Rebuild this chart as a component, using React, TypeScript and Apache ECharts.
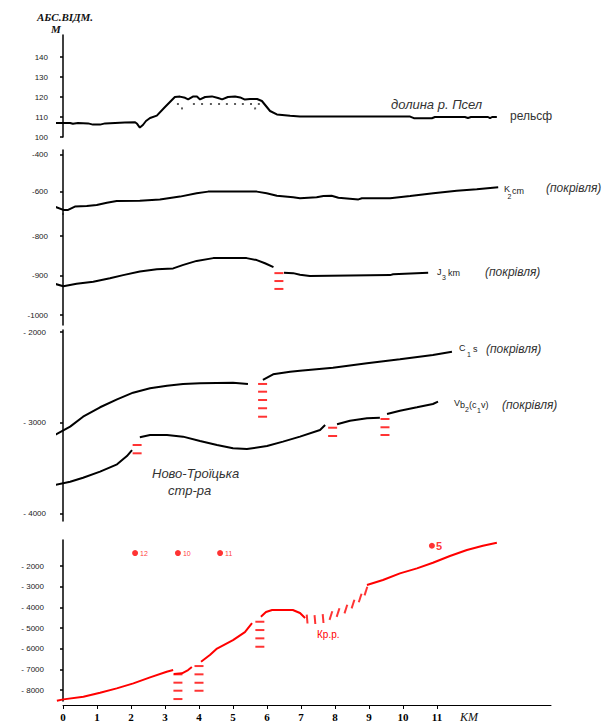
import React, { useEffect, useRef } from 'react';
import * as echarts from 'echarts';

// ---- distance axis (km) ----
const X_MIN = -0.1765;
const X_MAX = 14.353;
const kmTicks = [0, 1, 2, 3, 4, 5, 6, 7, 8, 9, 10, 11];

// ---- tick values for each panel ----
const reliefTicks = [100, 110, 120, 130, 140];
const p2UpperTicks = [-400, -600];
const p2LowerTicks = [-800, -900, -1000];
const p3Ticks = [-2000, -3000, -4000];
const p4Ticks = [-2000, -3000, -4000, -5000, -6000, -7000, -8000];

// ---- panel 1: relief (m) ----
const reliefLine = [
  [-0.24, 107.0], [0.21, 107.0], [0.29, 106.6], [0.44, 107.0], [0.74, 106.8], [0.88, 106.2],
  [1.09, 106.2], [1.24, 106.8], [1.53, 107.0], [1.82, 107.2], [2.12, 107.4], [2.18, 106.6],
  [2.26, 104.7], [2.35, 106.0], [2.44, 108.0], [2.56, 109.5], [2.76, 110.7], [3.0, 115.0],
  [3.29, 120.0], [3.44, 120.2], [3.59, 119.6], [3.68, 118.8], [3.82, 120.2], [3.94, 120.2],
  [4.03, 118.8], [4.18, 120.0], [4.38, 120.3], [4.56, 119.5], [4.68, 118.8], [4.85, 120.0],
  [5.06, 120.3], [5.21, 119.8], [5.35, 118.7], [5.5, 119.0], [5.71, 119.0], [5.85, 118.0],
  [6.09, 113.0], [6.29, 111.3], [6.68, 110.6], [6.97, 110.2], [10.21, 110.2], [10.32, 109.4],
  [10.85, 109.4], [10.94, 110.0], [11.82, 110.0], [11.91, 109.5], [12.0, 110.0], [12.5, 110.0],
  [12.56, 109.4], [12.62, 110.0], [12.76, 110.0],
];
const reliefSandDots = [
  [3.38, 116.5], [3.85, 116.5], [4.09, 116.5], [4.35, 116.5], [4.59, 116.5], [4.82, 116.5],
  [5.06, 116.5], [5.29, 116.5], [5.53, 116.5], [5.76, 116.5], [3.5, 114.3], [5.65, 114.3],
];

// ---- panel 2: K2cm and J3km roofs (m) ----
const k2cmLine = [
  [-0.24, -679], [0.01, -697], [0.15, -697], [0.35, -679], [0.7, -676], [0.99, -670],
  [1.29, -658], [1.58, -649], [2.26, -647], [2.85, -640], [3.44, -625], [3.93, -607],
  [4.27, -598], [5.7, -598], [5.99, -607], [6.29, -620], [6.77, -629], [6.97, -634],
  [7.46, -629], [7.66, -622], [7.9, -620], [8.1, -631], [8.69, -640], [8.79, -634],
  [9.62, -634], [10.21, -622], [10.89, -607], [11.58, -593], [12.17, -585], [12.8, -575],
];
const j3kmSegments = [
  [
    [-0.24, -921], [0.01, -927], [0.4, -921], [0.89, -916], [1.38, -907], [1.77, -899],
    [2.26, -890], [2.76, -884], [3.24, -882], [3.54, -873], [3.93, -863], [4.42, -856],
    [5.4, -856], [5.7, -861], [5.94, -869], [6.19, -879],
  ],
  [
    [6.5, -893], [6.77, -894], [6.97, -898], [7.26, -901], [9.62, -899], [9.71, -897],
    [10.74, -893],
  ],
];
const faultsP2 = [{ km: 6.35, depths: [-894, -914, -934] }];

// ---- panel 3: C1s and Vb2(C1v) roofs (m) ----
const c1sSegments = [
  [
    [-0.24, -3132], [0.21, -3040], [0.59, -2931], [1.09, -2827], [1.59, -2740], [2.06, -2667],
    [2.56, -2619], [3.06, -2590], [3.53, -2571], [4.03, -2564], [5.0, -2557], [5.44, -2571],
  ],
  [
    [5.88, -2527], [6.18, -2465], [6.68, -2436], [6.97, -2425], [7.94, -2392], [8.94, -2344],
    [9.91, -2300], [10.88, -2253], [11.44, -2216],
  ],
];
const vb2Segments = [
  [[-0.24, -3681], [0.21, -3645], [0.59, -3601], [1.09, -3535], [1.59, -3454], [1.88, -3363], [2.03, -3297]],
  [
    [2.26, -3157], [2.56, -3132], [3.06, -3132], [3.53, -3150], [4.03, -3198], [4.53, -3242],
    [5.0, -3278], [5.41, -3286], [6.0, -3253], [6.47, -3205], [6.97, -3150], [7.56, -3077],
    [7.71, -3022],
  ],
  [[8.06, -3014], [8.44, -2975], [8.94, -2948], [9.32, -2942]],
  [[9.53, -2901], [9.91, -2865], [10.41, -2827], [10.88, -2791], [11.03, -2766]],
];
const faultsP3 = [
  { km: 5.87, depths: [-2571, -2656, -2747, -2838, -2931] },
  { km: 2.18, depths: [-3242, -3333] },
  { km: 7.93, depths: [-3052, -3143] },
  { km: 9.47, depths: [-2956, -3047, -3132] },
];

// ---- panel 4: crystalline basement (m) ----
const basementSegments = [
  [[-0.18, -8518], [0.01, -8451], [0.6, -8324], [1.09, -8131], [1.58, -7918], [2.07, -7676], [2.56, -7386], [3.05, -7115], [3.24, -7033]],
  [[3.26, -7226], [3.5, -7192], [3.68, -7033], [3.79, -6887]],
  [[4.06, -6631], [4.32, -6307], [4.53, -5992], [5.0, -5581], [5.35, -5194], [5.56, -4758]],
  [[5.82, -4453], [5.97, -4226], [6.15, -4129], [6.76, -4129], [6.97, -4274], [7.12, -4516]],
  [[8.94, -2919], [9.41, -2677], [9.91, -2353], [10.41, -2111], [10.88, -1840], [11.38, -1516], [11.88, -1226], [12.35, -1018], [12.76, -873]],
];
const basementHatch = [
  [7.18, -4565], [7.41, -4589], [7.65, -4540], [7.88, -4395], [8.09, -4250],
  [8.32, -4081], [8.53, -3839], [8.74, -3548], [8.91, -3210],
];
const faultsP4 = [
  { km: 3.38, depths: [-7240, -7643, -8031, -8436] },
  { km: 4.0, depths: [-6839, -7240, -7647, -8034] },
  { km: 5.79, depths: [-4695, -5097, -5499, -5905] },
];
const wells = [
  { name: '12', km: 2.12, depth: -1371 },
  { name: '10', km: 3.38, depth: -1371 },
  { name: '11', km: 4.62, depth: -1371 },
  { name: '5', km: 10.85, depth: -1018 },
];

const SANS = "'Liberation Sans', Arial, sans-serif";
const SERIF = "'Liberation Serif', 'Times New Roman', serif";
const RED = '#ff0000';

export default function App() {
  const ref = useRef<HTMLDivElement>(null);

  useEffect(() => {
    if (!ref.current) return;
    const chart = echarts.init(ref.current, undefined, { renderer: 'svg' });

    const gridDefs = [
      { top: 35, height: 102 },
      { top: 150, height: 64 },
      { top: 214, height: 111 },
      { top: 330, height: 191 },
      { top: 540, height: 161 },
    ];
    const grid: any[] = gridDefs.map((g) => ({ left: 57, width: 494, top: g.top, height: g.height }));
    grid.push({ left: 63, width: 488, top: 704, height: 1 });

    const xAxis: any[] = gridDefs.map((_, i) => ({
      type: 'value', gridIndex: i, min: X_MIN, max: X_MAX, show: false,
    }));
    xAxis.push({
      type: 'value', gridIndex: 5, min: 0, max: X_MAX - X_MIN - 6 / 34 + X_MIN + 6 / 34 - X_MIN + X_MIN,
      position: 'bottom',
      axisLine: { show: true, lineStyle: { color: '#000', width: 1 } },
      axisTick: { show: true, customValues: kmTicks, length: 4, lineStyle: { color: '#000' } },
      axisLabel: {
        customValues: kmTicks, color: '#000', fontFamily: SERIF, fontWeight: 'bold', fontSize: 11, margin: 6,
      },
      splitLine: { show: false },
    });

    const yAxisBase = (gi: number, min: number, max: number, ticks: number[], fmt: (v: number) => string, margin: number) => ({
      type: 'value', gridIndex: gi, min, max, position: 'left',
      axisLine: { show: true, lineStyle: { color: '#000', width: 1.5 } },
      axisTick: { show: true, customValues: ticks, length: 3, lineStyle: { color: '#000', width: 1.5 } },
      axisLabel: { customValues: ticks, formatter: fmt, color: '#222', fontFamily: SANS, fontSize: 8, margin },
      splitLine: { show: false },
    });
    const plain = (v: number) => String(v);
    const spaced = (v: number) => '- ' + Math.abs(v);

    const yAxis: any[] = [
      yAxisBase(0, 100, 151, reliefTicks, plain, 9),
      yAxisBase(1, -719, -373, p2UpperTicks, plain, 9),
      yAxisBase(2, -1025.3, -744.3, p2LowerTicks, plain, 9),
      yAxisBase(3, -4077, -1978, p3Ticks, spaced, 11),
      yAxisBase(4, -8530, -740, p4Ticks, spaced, 13),
      { type: 'value', gridIndex: 5, min: 0, max: 1, show: false },
    ];

    const line = (data: number[][], gi: number, color = '#000') => ({
      type: 'line', xAxisIndex: gi, yAxisIndex: gi, data, symbol: 'none', silent: true,
      lineStyle: { color, width: 2 }, z: 3,
    });
    const dashes = (faults: { km: number; depths: number[] }[], gi: number) => ({
      type: 'scatter', xAxisIndex: gi, yAxisIndex: gi, silent: true,
      data: faults.flatMap((f) => f.depths.map((d) => [f.km, d])),
      symbol: 'rect', symbolSize: [9, 2], itemStyle: { color: RED }, z: 4,
    });

    const series: any[] = [
      line(reliefLine, 0),
      {
        type: 'scatter', xAxisIndex: 0, yAxisIndex: 0, data: reliefSandDots, silent: true,
        symbol: 'rect', symbolSize: 2, itemStyle: { color: '#333' },
      },
      line(k2cmLine, 1),
      ...j3kmSegments.map((s) => line(s, 2)),
      dashes(faultsP2, 2),
      ...c1sSegments.map((s) => line(s, 3)),
      ...vb2Segments.map((s) => line(s, 3)),
      dashes(faultsP3, 3),
      ...basementSegments.map((s) => line(s, 4, RED)),
      dashes(faultsP4, 4),
      {
        type: 'scatter', xAxisIndex: 4, yAxisIndex: 4, data: basementHatch, silent: true,
        symbol: 'rect', symbolSize: [2, 9],
        symbolRotate: (_v: any, p: any) => (p.dataIndex < 3 ? 5 : -18),
        itemStyle: { color: RED }, z: 4,
      },
      {
        type: 'scatter', xAxisIndex: 4, yAxisIndex: 4, silent: true, symbolSize: 6,
        itemStyle: { color: RED },
        data: wells.map((w) => ({
          value: [w.km, w.depth], name: w.name,
          label: w.name === '5'
            ? { fontSize: 11, fontWeight: 'bold', distance: 1 }
            : { fontSize: 7, distance: 2 },
        })),
        label: {
          show: true, position: 'right', formatter: (p: any) => p.name, color: RED, fontFamily: SANS,
        },
      },
    ];

    const t = (text: string, x: number, y: number, font: string, fill = '#222') => ({
      type: 'text', x, y, silent: true,
      style: { text, font, fill, verticalAlign: 'middle', textAlign: 'left' },
    });
    const it12 = `italic 12px ${SANS}`;
    const it13 = `italic 13px ${SANS}`;
    const n9 = `9px ${SANS}`;
    const n7 = `7px ${SANS}`;

    const graphic = [
      t('АБС.ВІДМ.', 37, 17, `italic bold 11px ${SERIF}`, '#111'),
      t('М', 51, 29, `italic bold 11px ${SERIF}`, '#111'),
      t('долина р. Псел', 391, 104, it13, '#333'),
      t('рельсф', 510, 116, `12px ${SANS}`, '#333'),
      t('K', 504, 189, n9),
      t('2', 507.5, 196, n7),
      t('cm', 512, 191, n9),
      t('(покрівля)', 546, 188, it12, '#333'),
      t('J', 437, 272, n9),
      t('3', 442, 277, n7),
      t('km', 448, 273, n9),
      t('(покрівля)', 485, 272, it12, '#333'),
      t('C', 459, 348, n9),
      t('1', 467, 354, n7),
      t('s', 473, 349, n9),
      t('(покрівля)', 486, 349, it12, '#333'),
      t('V', 454, 403, n9),
      t('b', 460, 405, n9),
      t('2', 465, 409, n7),
      t('(c', 469, 405, n9),
      t('1', 477, 410, n7),
      t('v)', 481, 405, n9),
      t('(покрівля)', 502, 405, it12, '#333'),
      t('Ново-Троїцька', 152, 473, it13, '#333'),
      t('стр-ра', 168, 490, it13, '#333'),
      t('Кр.р.', 317, 634, `10px ${SANS}`, RED),
      t('КМ', 460, 717, `italic 12px ${SERIF}`, '#111'),
    ];

    chart.setOption({
      animation: false,
      backgroundColor: '#fff',
      grid, xAxis, yAxis, series, graphic,
    });
    return () => chart.dispose();
  }, []);

  return (
    <div
      ref={ref}
      style={{ position: 'fixed', left: 0, top: 0, width: 604, height: 723, background: '#fff' }}
    />
  );
}
